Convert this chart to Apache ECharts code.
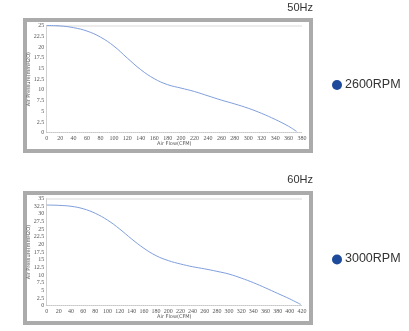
<!DOCTYPE html>
<html>
<head>
<meta charset="utf-8">
<script src="https://cdn.jsdelivr.net/npm/echarts@6/dist/echarts.min.js"></script>
<style>
html,body{margin:0;padding:0;background:#fff;}
#chart{width:409px;height:331px;}
</style>
</head>
<body>
<div id="chart"></div>
<script>
// Fan performance curves: air flow (CFM) vs static pressure (mmH2O)
const flow50 = [0, 20, 40, 60, 80, 100, 120, 140, 160, 180, 200, 220, 240, 260, 280, 300, 320, 340, 360, 372];
const pressure50 = [25, 24.9, 24.5, 23.7, 22.3, 20.2, 17.4, 14.7, 12.6, 11.2, 10.4, 9.6, 8.6, 7.6, 6.7, 5.7, 4.5, 3.1, 1.5, 0.3];

const flow60 = [0, 20, 40, 60, 80, 100, 120, 140, 160, 180, 200, 220, 240, 260, 280, 300, 320, 340, 360, 380, 400, 418];
const pressure60 = [32.8, 32.7, 32.4, 31.6, 30.1, 27.9, 25, 21.7, 18.7, 16.3, 14.7, 13.6, 12.7, 12.0, 11.2, 10.3, 9.0, 7.5, 5.8, 4.0, 2.2, 0.4];

const xMax50 = 380, yMax50 = 25;
const xMax60 = 420, yMax60 = 35;
const xStep = 20, yStep = 2.5;

const freqTitles = ['50Hz', '60Hz'];
const speedLabels = ['2600RPM', '3000RPM'];
const xName = 'Air Flow(CFM)';
const yName = 'Air Pressure(mmH2O)';

const lineColor = '#7f9fdc';
const dotColor = '#1d4a9a';
const tickFont = { fontSize: 6, color: '#555', fontFamily: 'Liberation Serif' };

function pairs(xs, ys) { return xs.map((x, i) => [x, ys[i]]); }

function xAxis(idx, max) {
  return {
    type: 'value', gridIndex: idx, min: 0, max: max, interval: xStep,
    name: xName, nameLocation: 'middle', nameGap: 9, nameMoveOverlap: false,
    nameTextStyle: { fontSize: 5, color: '#555', fontFamily: 'DejaVu Sans' },
    axisLine: { show: true, lineStyle: { color: '#c8c8c8', type: 'dotted', width: 1 } },
    axisTick: { show: false },
    splitLine: { show: false },
    axisLabel: Object.assign({ margin: 3 }, tickFont)
  };
}
function yAxis(idx, max) {
  return {
    type: 'value', gridIndex: idx, min: 0, max: max, interval: yStep,
    name: yName, nameLocation: 'middle', nameGap: 15, nameRotate: 90, nameMoveOverlap: false,
    nameTextStyle: { fontSize: 5, color: '#555', fontFamily: 'DejaVu Sans' },
    axisLine: { show: true, lineStyle: { color: '#d0d0d0', width: 1 } },
    axisTick: { show: false },
    splitLine: { show: false },
    axisLabel: Object.assign({ margin: 2.5 }, tickFont)
  };
}
// light rule along the top of each plot, drawn beneath the curve
function topRule(idx, ymax) {
  return {
    type: 'line', xAxisIndex: idx, yAxisIndex: idx, data: [], z: 1,
    markLine: {
      silent: true, symbol: 'none', label: { show: false },
      lineStyle: { color: '#ececec', width: 2, type: 'solid' },
      data: [{ yAxis: ymax }]
    }
  };
}
function curve(idx, xs, ys) {
  return {
    type: 'line', xAxisIndex: idx, yAxisIndex: idx, z: 5,
    data: pairs(xs, ys), smooth: 0.4, symbol: 'none', clip: false,
    lineStyle: { color: lineColor, width: 1 }
  };
}
function frame(top, h) {
  return { type: 'rect', shape: { x: 25, y: top, width: 286, height: h },
    style: { fill: '#fff', stroke: '#ababab', lineWidth: 4 }, z: -10 };
}

const chart = echarts.init(document.getElementById('chart'), null, { renderer: 'canvas' });
chart.setOption({
  animation: false,
  backgroundColor: '#fff',
  grid: [
    { left: 46.7, right: 107, top: 25.5, bottom: 198.3 },
    { left: 46.7, right: 107, top: 198.3, bottom: 25.3 }
  ],
  xAxis: [xAxis(0, xMax50), xAxis(1, xMax60)],
  yAxis: [yAxis(0, yMax50), yAxis(1, yMax60)],
  series: [
    topRule(0, yMax50), curve(0, flow50, pressure50),
    topRule(1, yMax60), curve(1, flow60, pressure60)
  ],
  graphic: [
    frame(20, 131),
    frame(193, 130),
    { type: 'text', right: 96, top: 2, style: { text: freqTitles[0], fontSize: 11, fill: '#333', fontFamily: 'Liberation Sans' } },
    { type: 'text', right: 96, top: 174, style: { text: freqTitles[1], fontSize: 11, fill: '#333', fontFamily: 'Liberation Sans' } },
    { type: 'circle', shape: { cx: 337, cy: 85, r: 5 }, style: { fill: dotColor } },
    { type: 'text', left: 345, top: 78, style: { text: speedLabels[0], fontSize: 12.5, fill: '#333', fontFamily: 'Liberation Sans' } },
    { type: 'circle', shape: { cx: 337, cy: 259.5, r: 5 }, style: { fill: dotColor } },
    { type: 'text', left: 345, top: 252.5, style: { text: speedLabels[1], fontSize: 12.5, fill: '#333', fontFamily: 'Liberation Sans' } }
  ]
});
</script>
</body>
</html>
